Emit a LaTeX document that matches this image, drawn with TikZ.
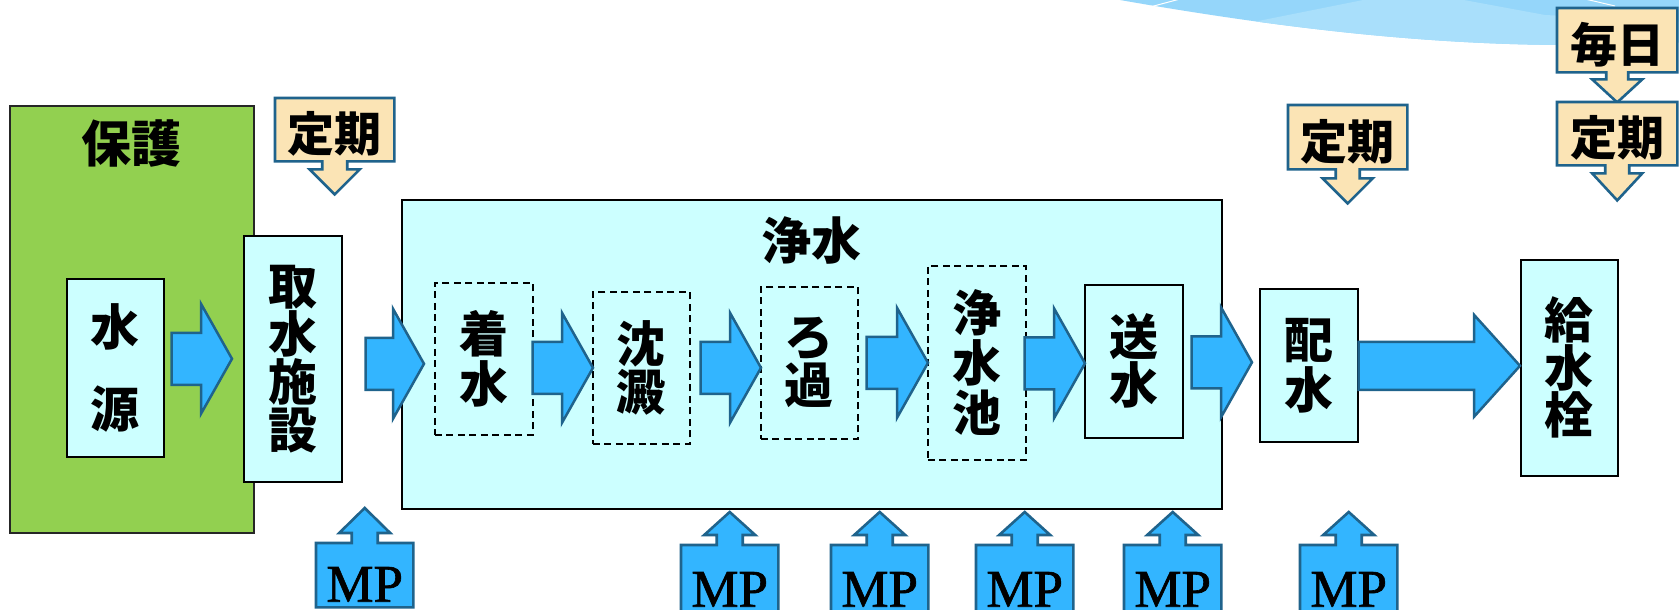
\documentclass[tikz,border=0pt]{standalone}
\usepackage{fontspec}
\setmainfont{Liberation Serif}
\newfontfamily\cjk{Noto Sans CJK JP}
\newfontfamily\mpfont{Liberation Serif}[FakeBold=1.2]
\usetikzlibrary{calc,backgrounds}
\definecolor{cyanbox}{HTML}{CCFFFF}
\definecolor{greenbox}{HTML}{92D050}
\definecolor{tanfill}{HTML}{FBE4B5}
\definecolor{arrowblue}{HTML}{33B5FF}
\definecolor{edgeblue}{HTML}{1F638C}
\definecolor{skyA}{HTML}{95D6FA}
\definecolor{skyB}{HTML}{A9DFFB}

% block arrow: start point, tip point, shaft half height, head half height, head length
\newcommand\blockarrow[5]{%
  \draw[blockarr] let \p1=#1, \p2=#2 in
   (\x1,\y2+#3) -- (\x2-#5,\y2+#3) -- (\x2-#5,\y2+#4) -- (\x2,\y2)
   -- (\x2-#5,\y2-#4) -- (\x2-#5,\y2-#3) -- (\x1,\y2-#3) -- cycle;}
% callout pointing down: node, stem half, head half, stem length, head length
\newcommand\downcallout[5]{%
  \path[tancall] (#1.north west) -- (#1.north east) -- (#1.south east)
   -- ($(#1.south)+(#2,0)$) -- ($(#1.south)+(#2,#4)$) -- ($(#1.south)+(#3,#4)$)
   -- ($(#1.south)+(0,#4+#5)$)
   -- ($(#1.south)+(-#3,#4)$) -- ($(#1.south)+(-#2,#4)$) -- ($(#1.south)+(-#2,0)$)
   -- (#1.south west) -- cycle;}
% callout pointing up
\newcommand\upcallout[5]{%
  \path[bluecall] (#1.south west) -- (#1.south east) -- (#1.north east)
   -- ($(#1.north)+(#2,0)$) -- ($(#1.north)+(#2,-#4)$) -- ($(#1.north)+(#3,-#4)$)
   -- ($(#1.north)+(0,-#4-#5)$)
   -- ($(#1.north)+(-#3,-#4)$) -- ($(#1.north)+(-#2,-#4)$) -- ($(#1.north)+(-#2,0)$)
   -- (#1.north west) -- cycle;}

\begin{document}
\begin{tikzpicture}[x=1pt,y=-1pt,
  box/.style={draw=black,line width=1.6pt,fill=cyanbox,inner sep=0pt,anchor=north west},
  gbox/.style={draw=black!85,line width=1.6pt,fill=greenbox,inner sep=0pt,anchor=north west},
  dbox/.style={draw=black,line width=1.6pt,dash pattern=on 7pt off 4.5pt,inner sep=0pt,anchor=north west},
  jp/.style={font=\cjk\bfseries\fontsize{49}{#1}\selectfont,align=center},
  lbl/.style={font=\cjk\bfseries\fontsize{50}{54}\selectfont,inner sep=0pt},
  tnode/.style={anchor=north west,inner sep=0pt,font=\cjk\bfseries\fontsize{47}{50}\selectfont,text height=46pt,text depth=2pt},
  mpnode/.style={anchor=north west,inner sep=0pt,font=\mpfont\fontsize{53}{56}\selectfont,text height=53pt,text depth=0pt},
  blockarr/.style={draw=edgeblue,fill=arrowblue,line width=2.5pt,line join=miter},
  tancall/.style={draw=edgeblue,fill=tanfill,line width=2.6pt,line join=miter},
  bluecall/.style={draw=edgeblue,fill=arrowblue,line width=2.6pt,line join=miter}]
\useasboundingbox (0,0) rectangle (1679,610);
\clip (0,0) rectangle (1679,610);

% main boxes
\node[gbox,minimum width=244pt,minimum height=427pt] (hogo) at (9,105) {};
\node[lbl] (hogolbl) at (131,144) {保護};
\node[box,minimum width=97pt,minimum height=178pt,jp=82] (suigen) at (66,278) {水\\源};
\node[box,minimum width=98pt,minimum height=246pt,jp=48] (shusui) at (243,235) {取\\水\\施\\設};
\node[box,minimum width=820pt,minimum height=309pt] (josui) at (401,199) {};
\node[lbl] (josuilbl) at (811,240) {浄水};
\node[dbox,minimum width=98pt,minimum height=152pt,jp=50] (chaku) at (434,282) {着\\水};
\node[dbox,minimum width=97pt,minimum height=152pt,jp=48] (chinden) at (592,291) {沈\\澱};
\node[dbox,minimum width=97pt,minimum height=152pt,jp=48] (roka) at (760,286) {ろ\\過};
\node[dbox,minimum width=98pt,minimum height=194pt,jp=50] (jsc) at (927,265) {浄\\水\\池};
\node[box,minimum width=98pt,minimum height=153pt,jp=48] (sousui) at (1084,284) {送\\水};
\node[box,minimum width=98pt,minimum height=153pt,jp=50] (haisui) at (1259,288) {配\\水};
\node[box,minimum width=97pt,minimum height=216pt,jp=46] (kyu) at (1520,259) {給\\水\\栓};

% flow arrows
\blockarrow{($(suigen.east)+(7,0)$)}{($(shusui.west)+(-11,0)$)}{26}{55}{31}
\blockarrow{($(shusui.east)+(23,0)$)}{($(chaku.west)+(-10,5)$)}{26}{55}{31}
\blockarrow{($(chaku.east)+(-1,0)$)}{($(chinden.west)+(1,0)$)}{26}{55}{31}
\blockarrow{($(chinden.east)+(10,0)$)}{($(roka.west)+(1,5)$)}{26}{55}{31}
\blockarrow{($(roka.east)+(8,0)$)}{($(jsc.west)+(1,0)$)}{26}{55}{31}
\blockarrow{($(jsc.east)+(-2,0)$)}{($(sousui.west)+(1,2)$)}{26}{55}{31}
\blockarrow{($(sousui.east)+(8,0)$)}{($(haisui.west)+(-7,-3)$)}{26}{55}{31}
\blockarrow{($(haisui.east)$)}{($(kyu.west)+(0,-2)$)}{24}{51}{46}

% callout texts
\node[tnode,minimum width=119pt,minimum height=63pt] (t1) at (275,98) {定期};
\node[tnode,minimum width=119pt,minimum height=64pt] (t2) at (1288,105) {定期};
\node[tnode,minimum width=120pt,minimum height=64pt] (mai) at (1557,8) {毎日};
\node[tnode,minimum width=120pt,minimum height=63pt] (t3) at (1557,102) {定期};
\node[mpnode,minimum width=97pt,minimum height=64pt] (mp1) at (316,543) {MP};
\node[mpnode,minimum width=97pt,minimum height=70pt] (mp2) at (681,545) {MP};
\node[mpnode,minimum width=97pt,minimum height=70pt] (mp3) at (831,545) {MP};
\node[mpnode,minimum width=97pt,minimum height=70pt] (mp4) at (976,545) {MP};
\node[mpnode,minimum width=97pt,minimum height=70pt] (mp5) at (1124,545) {MP};
\node[mpnode,minimum width=97pt,minimum height=70pt] (mp6) at (1300,545) {MP};

\begin{pgfonlayer}{background}
  \fill[white] (0,0) rectangle (1679,610);
  % decorative swoosh
  \fill[skyA] (1115,-2) -- (1685,-2) -- (1685,42)
     .. controls (1650,44) and (1620,45.5) .. (1560,45)
     .. controls (1420,44) and (1280,28) .. (1120,0) -- cycle;
  \begin{scope}
    \clip (1115,-2) -- (1685,-2) -- (1685,42)
     .. controls (1650,44) and (1620,45.5) .. (1560,45)
     .. controls (1420,44) and (1280,28) .. (1120,0) -- cycle;
    \fill[skyB] (1253,22) -- (1373,-2) -- (1453,-2) -- (1545,15) -- (1685,22)
       -- (1685,60) -- (1200,60) -- cycle;
  \end{scope}
  \draw[white,line width=1pt] (1150,7) -- (1180,-1);
  \draw[white,line width=1pt] (1585,-1) -- (1615,6);
  % callout shapes
  \downcallout{t1}{12.5}{25}{8}{25}
  \downcallout{t2}{12}{25}{9}{25}
  \downcallout{mai}{11}{25}{7}{23}
  \downcallout{t3}{12}{25}{8}{27}
  \upcallout{mp1}{13}{25.5}{10}{25}
  \upcallout{mp2}{13}{25.5}{10}{23}
  \upcallout{mp3}{13}{25.5}{10}{23}
  \upcallout{mp4}{13}{25.5}{10}{23}
  \upcallout{mp5}{13}{25.5}{10}{23}
  \upcallout{mp6}{13}{25.5}{10}{23}
\end{pgfonlayer}
\end{tikzpicture}
\end{document}
